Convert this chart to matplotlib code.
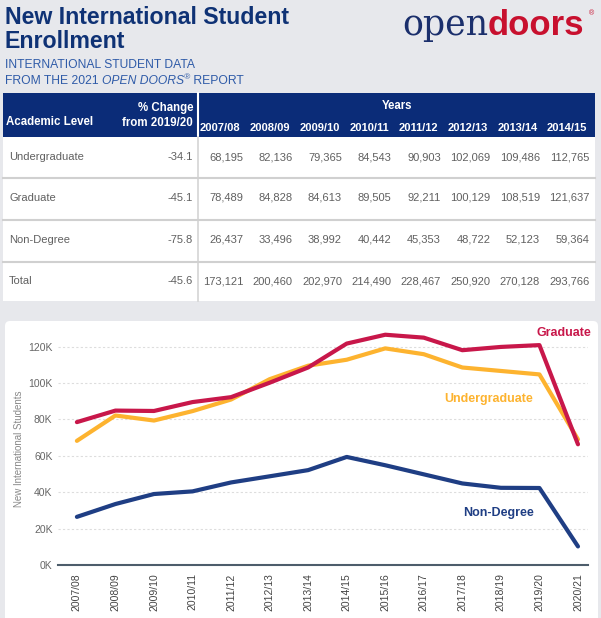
import matplotlib
matplotlib.use("Agg")
import matplotlib.pyplot as plt
from matplotlib.patches import Rectangle, FancyBboxPatch
from matplotlib.ticker import FuncFormatter, MultipleLocator

plt.rcParams['font.family'] = ['Liberation Sans', 'DejaVu Sans']

# ---- data ----
years = ["2007/08", "2008/09", "2009/10", "2010/11", "2011/12", "2012/13", "2013/14",
         "2014/15", "2015/16", "2016/17", "2017/18", "2018/19", "2019/20", "2020/21"]
undergrad = [68195, 82136, 79365, 84543, 90903, 102069, 109486, 112765,
             119000, 115800, 108500, 106600, 104700, 69000]
graduate = [78489, 84828, 84613, 89505, 92211, 100129, 108519, 121637,
            126500, 124900, 118000, 119800, 120800, 66300]
non_degree = [26437, 33496, 38992, 40442, 45353, 48722, 52123, 59364,
              54800, 49800, 44800, 42400, 42300, 10200]
total = [173121, 200460, 202970, 214490, 228467, 250920, 270128, 293766]

levels = ["Undergraduate", "Graduate", "Non-Degree", "Total"]
pct_change = [-34.1, -45.1, -75.8, -45.6]
table_years = years[:8]

# colours
BG = "#e7e8ec"
NAVY = "#0b2c78"
TITLE = "#0f3275"
SUB = "#2f5ba8"
RED = "#c8174a"
GOLD = "#fdb32f"
BLUE = "#1f3e84"
GREY = "#606060"

fig = plt.figure(figsize=(6.01, 6.18), dpi=100, facecolor=BG)

# background axes in pixel coordinates
bg = fig.add_axes([0, 0, 1, 1])
bg.set_xlim(0, 601)
bg.set_ylim(618, 0)
bg.axis("off")

# ---- header ----
bg.text(5, 23.5, "New International Student", fontsize=16.7, fontweight="bold",
        color=TITLE, va="baseline")
bg.text(5, 48.5, "Enrollment", fontsize=16.7, fontweight="bold", color=TITLE, va="baseline")
bg.text(5, 67.5, "INTERNATIONAL STUDENT DATA", fontsize=8.7, color=SUB, va="baseline")

# second subtitle line, pieced together
r = fig.canvas.get_renderer()
x = 5
for txt, style, size, dy in [("FROM THE 2021 ", "normal", 8.7, 0),
                             ("OPEN DOORS", "italic", 8.7, 0),
                             ("®", "italic", 6, -4),
                             (" REPORT", "normal", 8.7, 0)]:
    t = bg.text(x, 83.5 + dy, txt, fontsize=size, style=style, color=SUB, va="baseline")
    bb = t.get_window_extent(renderer=r)
    x += bb.width

# logo
bg.text(488, 35, "open", fontsize=25, family="DejaVu Serif", color="#1b2f6c",
        ha="right", va="baseline")
bg.text(488, 35, "doors", fontsize=25, fontweight="bold", color="#c8102e",
        ha="left", va="baseline")
bg.text(589, 15, "®", fontsize=5, color="#c8102e", ha="left", va="baseline")

# ---- table ----
tx0, tx1 = 3, 595
bg.add_patch(Rectangle((tx0, 93), tx1 - tx0, 208, facecolor="white", edgecolor="none"))
bg.add_patch(Rectangle((tx0, 93), tx1 - tx0, 44, facecolor=NAVY, edgecolor="none"))
bg.plot([198, 198], [93, 137], color="white", lw=1.5)
bg.plot([198, 198], [137, 301], color="#d4d4d4", lw=1.2)
for yl in [178, 220, 262]:
    bg.plot([tx0, tx1], [yl, yl], color="#d0d0d0", lw=1.5)

bg.text(6, 122, "Academic Level", fontsize=8.3, fontweight="bold", color="white", va="center")
bg.text(193, 108, "% Change", fontsize=8.3, fontweight="bold", color="white",
        ha="right", va="center")
bg.text(193, 123, "from 2019/20", fontsize=8.3, fontweight="bold", color="white",
        ha="right", va="center")
bg.text(397, 106, "Years", fontsize=8.3, fontweight="bold", color="white",
        ha="center", va="center")

col_right = [242 + 49.5 * i for i in range(len(table_years))]
for xr, yr in zip(col_right, table_years):
    bg.text(xr - 1.5, 128, yr, fontsize=8, fontweight="bold", color="white",
            ha="right", va="center")

row_y = [157, 198, 240, 281]
rows = [undergrad[:8], graduate[:8], non_degree[:8], total]
for yc, name, pc, vals in zip(row_y, levels, pct_change, rows):
    bg.text(9, yc, name, fontsize=8, color=GREY, va="center")
    bg.text(193, yc, f"{pc:.1f}", fontsize=8, color=GREY, ha="right", va="center")
    for xr, v in zip(col_right, vals):
        bg.text(xr + 1, yc, f"{v:,}", fontsize=8, color=GREY, ha="right", va="center")

# ---- chart panel ----
bg.add_patch(FancyBboxPatch((5, 321), 593, 310, boxstyle="round,pad=0,rounding_size=5",
                            facecolor="white", edgecolor="none"))

ax = fig.add_axes([58 / 601, (618 - 565) / 618, (588 - 58) / 601, (565 - 332) / 618])
ax.patch.set_visible(False)
xs = range(len(years))
ax.plot(xs, non_degree, color=BLUE, lw=3, solid_capstyle="round", solid_joinstyle="round")
ax.plot(xs, undergrad, color=GOLD, lw=3, solid_capstyle="round", solid_joinstyle="round")
ax.plot(xs, graduate, color=RED, lw=3, solid_capstyle="round", solid_joinstyle="round")

ax.set_xlim(-0.49, len(years) - 1 + 0.26)
ax.set_ylim(0, 128000)
ax.yaxis.set_major_locator(MultipleLocator(20000))
ax.yaxis.set_major_formatter(FuncFormatter(lambda v, p: f"{v / 1000:.0f}K"))
ax.set_xticks(list(xs))
ax.set_xticklabels(years, rotation=90, fontsize=7.5, color="#444444")
ax.tick_params(axis="x", length=0, pad=6)
ax.tick_params(axis="y", length=0, pad=4, labelsize=7.5, labelcolor="#666666")
ax.grid(axis="y", color="#dddddd", lw=0.8, ls=(0, (2, 2)))
ax.set_axisbelow(True)
for s in ["top", "right", "left"]:
    ax.spines[s].set_visible(False)
ax.spines["bottom"].set_color("#4d5d6b")
ax.spines["bottom"].set_linewidth(1.5)
ax.set_ylabel("New International Students", fontsize=7, color="#888888", labelpad=3)

# series labels (placed in pixel coordinates, drawn above the chart)
for lx, ly, name, col in [(591, 333, "Graduate", RED),
                          (533, 399, "Undergraduate", GOLD),
                          (534, 513, "Non-Degree", BLUE)]:
    ax.text(lx, ly, name, fontsize=9, fontweight="bold", color=col, ha="right",
            va="center", transform=bg.transData, clip_on=False)

fig.savefig("out.png", dpi=100, facecolor=BG)
